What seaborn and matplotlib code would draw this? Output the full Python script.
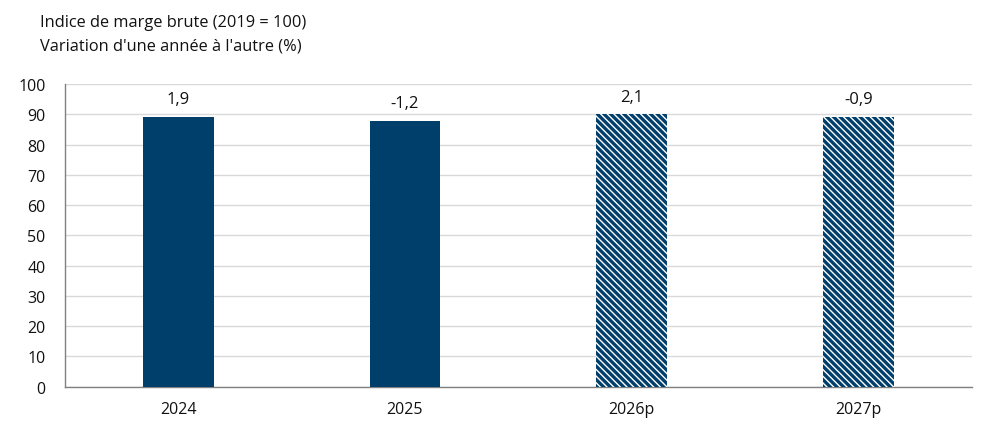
import matplotlib
matplotlib.use("Agg")
import matplotlib.pyplot as plt
import seaborn as sns
import pandas as pd

categories = ["2024", "2025", "2026p", "2027p"]
index_values = [89.2, 87.8, 90.0, 89.1]
yoy_labels = ["1,9", "-1,2", "2,1", "-0,9"]
projected = [False, False, True, True]
title_lines = ["Indice de marge brute (2019 = 100)", "Variation d'une année à l'autre (%)"]

sns.set_theme(style="white")
plt.rcParams['font.family'] = ['Open Sans', 'DejaVu Sans']
plt.rcParams['hatch.linewidth'] = 1.0

navy = "#003F6B"
df = pd.DataFrame({"cat": categories, "val": index_values})

fig = plt.figure(figsize=(9.92, 4.39), dpi=100)
ax = fig.add_axes([0.0655, 0.117, 0.914, 0.689])

sns.barplot(data=df, x="cat", y="val", color=navy, width=0.313, saturation=1, ax=ax, zorder=3)

for patch, proj in zip(ax.patches, projected):
    patch.set_linewidth(0)
    if proj:
        patch.set_facecolor(navy)
        patch.set_edgecolor("white")
        patch.set_hatch("\\" * 5)

for i, (v, lab) in enumerate(zip(index_values, yoy_labels)):
    ax.annotate(lab, (i, v), xytext=(0, 7), textcoords="offset points",
                ha="center", va="bottom", fontsize=12, color="#111111")

ax.set_xlim(-0.5, 3.5)
ax.set_ylim(0, 100)
ax.set_yticks(range(0, 101, 10))
ax.yaxis.grid(True, color="#D9D9D9", linewidth=1)
ax.set_axisbelow(True)
ax.set_xlabel("")
ax.set_ylabel("")
for s in ["top", "right"]:
    ax.spines[s].set_visible(False)
for s in ["left", "bottom"]:
    ax.spines[s].set_color("#808080")
    ax.spines[s].set_linewidth(1)
ax.tick_params(axis="both", length=0, labelsize=11.5, colors="#111111")
ax.tick_params(axis="y", pad=14)
ax.tick_params(axis="x", pad=10)

fig.text(0.040, 0.947, title_lines[0], fontsize=11.8, ha="left", va="center", color="#111111")
fig.text(0.040, 0.893, title_lines[1], fontsize=11.8, ha="left", va="center", color="#111111")

fig.savefig("out.png", dpi=100)
